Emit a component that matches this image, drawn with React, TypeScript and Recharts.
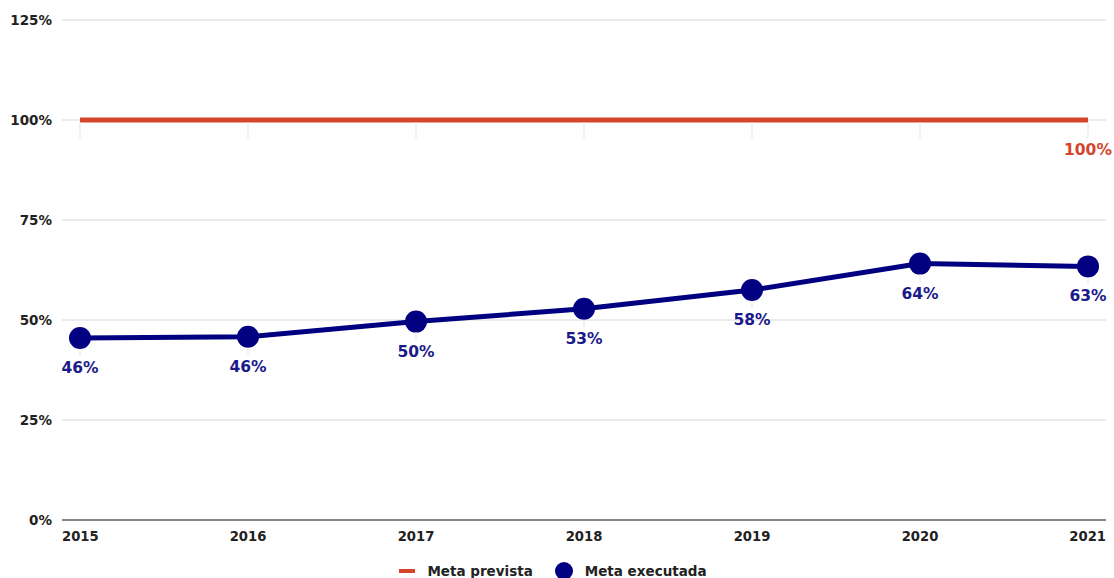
import React from "react";
import { LineChart, Line, XAxis, YAxis, CartesianGrid, Legend } from "recharts";

const years = ["2015", "2016", "2017", "2018", "2019", "2020", "2021"];
const metaPrevista = [100, 100, 100, 100, 100, 100, 100];
const metaExecutada = [45.5, 45.8, 49.6, 52.8, 57.5, 64.1, 63.4];
const yTicks = [0, 25, 50, 75, 100, 125];

const data = years.map((y, i) => ({ year: y, prevista: metaPrevista[i], executada: metaExecutada[i] }));

const RED = "#d5452b";
const NAVY = "#000080";
const FONT = "'DejaVu Sans', 'Liberation Sans', Arial, sans-serif";

const makeLabel = (color: string, startOff: number, showIdx: (i: number) => boolean) => (props: any) => {
  const { x, y, value, index } = props;
  return (
    <g>
      <line x1={x} y1={y + startOff} x2={x} y2={y + 18} stroke="#e3e3e3" strokeWidth={1} />
      {showIdx(index) && (
        <text x={x} y={y + 30} textAnchor="middle" dominantBaseline="central" fill={color}
          style={{ fontFamily: FONT, fontWeight: 700, fontSize: 15.5 }}>
          {Math.round(value)}%
        </text>
      )}
    </g>
  );
};

const XTick = (props: any) => {
  const { x, y, payload, index } = props;
  const anchor = index === 0 ? "start" : index === years.length - 1 ? "end" : "middle";
  const dx = index === 0 ? -18 : index === years.length - 1 ? 18 : 0;
  return (
    <text x={x + dx} y={y + 8} textAnchor={anchor} dominantBaseline="central" fill="#222"
      style={{ fontFamily: FONT, fontWeight: 700, fontSize: 13.2 }}>
      {payload.value}
    </text>
  );
};

const LegendContent = () => (
  <div style={{ display: "flex", justifyContent: "center", alignItems: "center", fontFamily: FONT, fontWeight: 700, fontSize: 13.5, color: "#222", height: 20, marginTop: 11 }}>
    <svg width={16} height={16} style={{ marginRight: 12 }}>
      <rect x={0} y={6} width={16} height={4} fill={RED} />
    </svg>
    <span style={{ marginRight: 22 }}>Meta prevista</span>
    <svg width={18} height={18} style={{ marginRight: 12 }}>
      <circle cx={9} cy={9} r={9} fill={NAVY} />
    </svg>
    <span>Meta executada</span>
  </div>
);

export default function App() {
  return (
    <div style={{ position: "absolute", left: 0, top: 0, background: "#fff" }}>
      <LineChart width={1114} height={578} data={data} margin={{ top: 20, right: 8, left: 0, bottom: 0 }}>
        <CartesianGrid vertical={false} stroke="#d9d9d9" />
        <XAxis dataKey="year" padding={{ left: 18, right: 18 }} axisLine={{ stroke: "#666", strokeWidth: 1.5 }}
          tickLine={false} tick={<XTick />} height={30} interval={0} />
        <YAxis domain={[0, 125]} ticks={yTicks} width={62} axisLine={false} tickLine={false} tickMargin={4}
          tickFormatter={(v: number) => `${v}%`}
          tick={{ fill: "#222", fontFamily: FONT, fontWeight: 700, fontSize: 13.5 }} />
        <Legend verticalAlign="bottom" content={<LegendContent />} wrapperStyle={{ height: 28 }} />
        <Line type="linear" dataKey="prevista" name="Meta prevista" stroke={RED} strokeWidth={5} dot={false}
          activeDot={false} isAnimationActive={false}
          label={makeLabel(RED, 2, (i) => i === years.length - 1)} />
        <Line type="linear" dataKey="executada" name="Meta executada" stroke={NAVY} strokeWidth={5}
          dot={{ r: 11, fill: NAVY, stroke: NAVY, strokeWidth: 0 }} activeDot={false} isAnimationActive={false}
          label={makeLabel("#1a1a8a", 11, () => true)} />
      </LineChart>
    </div>
  );
}
